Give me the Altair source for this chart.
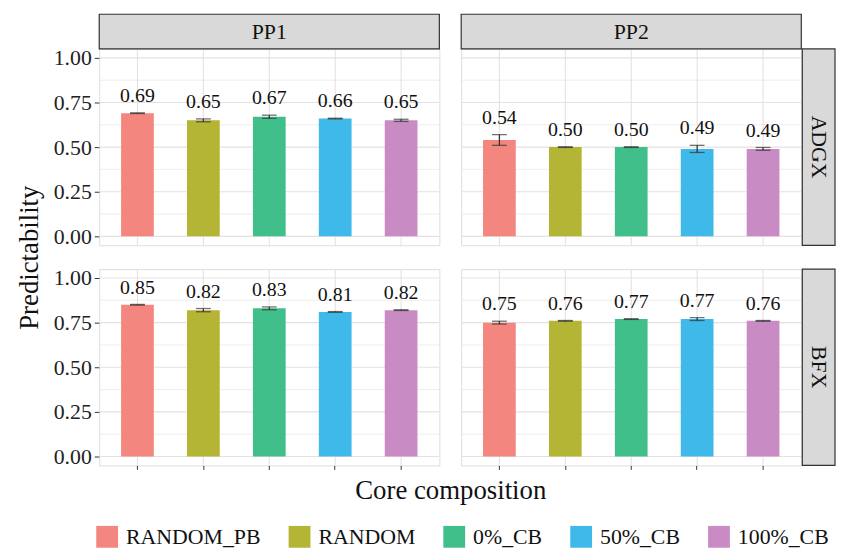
import altair as alt
import pandas as pd

comps = ["RANDOM_PB", "RANDOM", "0%_CB", "50%_CB", "100%_CB"]
colors = ["#F3877F", "#B5B535", "#40BF8B", "#3EB9EA", "#C98BC4"]

pp1_adgx_mean = [0.69, 0.65, 0.67, 0.66, 0.65]
pp1_adgx_sd = [0.002, 0.008, 0.009, 0.002, 0.006]
pp2_adgx_mean = [0.54, 0.50, 0.50, 0.49, 0.49]
pp2_adgx_sd = [0.03, 0.002, 0.002, 0.02, 0.008]
pp1_bfx_mean = [0.85, 0.82, 0.83, 0.81, 0.82]
pp1_bfx_sd = [0.002, 0.009, 0.008, 0.002, 0.002]
pp2_bfx_mean = [0.75, 0.76, 0.77, 0.77, 0.76]
pp2_bfx_sd = [0.008, 0.002, 0.002, 0.008, 0.002]

y_ticks = [0.0, 0.25, 0.5, 0.75, 1.0]
y_minor = [0.125, 0.375, 0.625, 0.875]

FONT = "Liberation Serif, Times New Roman, Times, serif"
W, H = 343, 198
GRID = "#E6E1E1"


def panel(mean, sd, left, bottom, top_label=None, right_label=None,
          x_title=None, y_title=None):
    df = pd.DataFrame({
        "comp": comps,
        "mean": mean,
        "lo": [m - s for m, s in zip(mean, sd)],
        "hi": [m + s for m, s in zip(mean, sd)],
        "label": [f"{m:.2f}" for m in mean],
    })
    xkw = dict(grid=False, labels=False, domain=False, ticks=bottom,
               tickSize=4, tickColor="#333333", bandPosition=0.5,
               title=x_title)
    if x_title:
        xkw.update(titleX=W + 11, titlePadding=8, titleFontSize=27,
                   titleFontWeight="normal", titleColor="#111111", titleFont=FONT)
    x_axis = alt.Axis(**xkw)
    ykw = dict(values=y_ticks, format=".2f", grid=False, labels=left,
               ticks=left, domain=False, tickSize=5, tickColor="#333333",
               labelFontSize=22, labelColor="#222222", labelFont=FONT,
               labelPadding=3, title=y_title)
    if y_title:
        ykw.update(titleY=H + 12, titlePadding=10, titleFontSize=27,
                   titleFontWeight="normal", titleColor="#111111", titleFont=FONT)
    y_axis = alt.Axis(**ykw)
    xs = alt.Scale(domain=comps, paddingInner=0.5, paddingOuter=0.33)
    ys = alt.Scale(domain=[-0.05, 1.05], nice=False, zero=False)

    base = alt.Chart(df)
    xenc = alt.X("comp:N", sort=comps, scale=xs, axis=x_axis)

    vgrid = base.mark_rule(color=GRID, strokeWidth=1.1).encode(x=xenc)
    hmaj = alt.Chart(pd.DataFrame({"mean": y_ticks})).mark_rule(
        color=GRID, strokeWidth=1.1).encode(
        y=alt.Y("mean:Q", scale=ys, axis=y_axis))
    hmin = alt.Chart(pd.DataFrame({"mean": y_minor})).mark_rule(
        color=GRID, strokeWidth=0.6).encode(
        y=alt.Y("mean:Q", scale=ys, axis=y_axis))
    bars = base.mark_bar(size=33).encode(
        x=xenc,
        y=alt.Y("mean:Q", scale=ys, axis=y_axis),
        y2=alt.datum(0),
        color=alt.Color("comp:N", sort=comps,
                        scale=alt.Scale(domain=comps, range=colors),
                        legend=alt.Legend(orient="none", legendX=-3, legendY=481,
                                          direction="horizontal", title=None,
                                          symbolType="square", symbolSize=484,
                                          symbolStrokeWidth=0, symbolOpacity=1,
                                          labelFont=FONT, labelFontSize=22,
                                          labelColor="#111111", labelOffset=8,
                                          columnPadding=28)),
    )
    err = base.mark_rule(color="#333333", strokeWidth=1.3).encode(
        x=xenc, y=alt.Y("lo:Q", scale=ys, axis=y_axis), y2="hi:Q")
    cap_lo = base.mark_tick(color="#333333", size=15, thickness=1.3).encode(
        x=xenc, y=alt.Y("lo:Q", scale=ys, axis=y_axis))
    cap_hi = base.mark_tick(color="#333333", size=15, thickness=1.3).encode(
        x=xenc, y=alt.Y("hi:Q", scale=ys, axis=y_axis))
    txt = base.mark_text(baseline="bottom", dy=-7, fontSize=20, font=FONT,
                         color="#111111").encode(
        x=xenc, y=alt.Y("hi:Q", scale=ys, axis=y_axis), text="label:N")

    layers = [vgrid, hmaj, hmin, bars, err, cap_lo, cap_hi, txt]
    if top_label:
        sd_ = alt.Chart(pd.DataFrame({"s": [top_label]}))
        layers.append(sd_.mark_rect(fill="#D9D9D9", stroke="#333333",
                                    strokeWidth=1.2).encode(
            x=alt.value(0), x2=alt.value(W), y=alt.value(-35), y2=alt.value(0)))
        layers.append(sd_.mark_text(fontSize=22, font=FONT, color="#111111",
                                    baseline="middle").encode(
            x=alt.value(W / 2), y=alt.value(-17), text="s:N"))
    if right_label:
        sd_ = alt.Chart(pd.DataFrame({"s": [right_label]}))
        layers.append(sd_.mark_rect(fill="#D9D9D9", stroke="#333333",
                                    strokeWidth=1.2).encode(
            x=alt.value(W + 1), x2=alt.value(W + 34), y=alt.value(0), y2=alt.value(H)))
        layers.append(sd_.mark_text(fontSize=22, font=FONT, color="#111111",
                                    baseline="middle", align="center",
                                    angle=90).encode(
            x=alt.value(W + 18), y=alt.value(H / 2), text="s:N"))
    return alt.layer(*layers).properties(width=W, height=H)


p11 = panel(pp1_adgx_mean, pp1_adgx_sd, left=True, bottom=False,
            top_label="PP1", y_title="Predictability")
p21 = panel(pp2_adgx_mean, pp2_adgx_sd, left=False, bottom=False,
            top_label="PP2", right_label="ADGX")
p12 = panel(pp1_bfx_mean, pp1_bfx_sd, left=True, bottom=True,
            x_title="Core composition")
p22 = panel(pp2_bfx_mean, pp2_bfx_sd, left=False, bottom=True,
            right_label="BFX")

chart = alt.concat(p11, p21, p12, p22, columns=2,
                   spacing={"row": 24, "column": 22}, bounds="flush"
                   ).resolve_scale(color="shared").resolve_legend(
    color="shared").properties(
    padding={"left": 7, "top": 2, "right": 0, "bottom": 0}
).configure_view(stroke="#333333", strokeWidth=1.2).configure(font=FONT)

chart.save("out.html", embed_options={"renderer": "svg", "actions": False})
